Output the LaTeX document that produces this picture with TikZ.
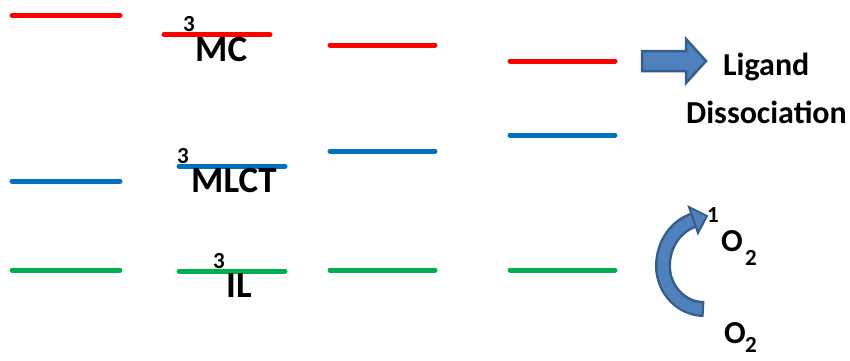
\documentclass[tikz,border=0pt]{standalone}
\usepackage{fontspec}
\setmainfont{Carlito}
\definecolor{lvred}{RGB}{255,0,0}
\definecolor{lvblue}{RGB}{0,112,192}
\definecolor{lvgreen}{RGB}{0,176,80}
\definecolor{arrfill}{RGB}{79,129,189}
\definecolor{arrdark}{RGB}{56,93,138}
\tikzset{
  level/.style={line width=5pt, line cap=round},
  big/.style={inner sep=0pt, anchor=base west, font=\fontsize{37}{37}\selectfont\bfseries},
  med/.style={inner sep=0pt, anchor=base west, font=\fontsize{32}{32}\selectfont\bfseries},
  oxy/.style={inner sep=0pt, anchor=base west, font=\fontsize{32}{32}\selectfont\bfseries},
  small/.style={inner sep=0pt, anchor=base west, font=\fontsize{23}{23}\selectfont\bfseries},
}
\begin{document}
\begin{tikzpicture}[x=1pt, y=-1pt]
\useasboundingbox (0,0) rectangle (850,360);
% column 1
\draw[level, lvred]   (12,15.5) -- (120,15.5);
\draw[level, lvblue]  (12,181) -- (120,181);
\draw[level, lvgreen] (12,270) -- (120,270);
% column 2
\draw[level, lvred]   (164,34.5) -- (270,34.5);
\draw[level, lvblue]  (179,166) -- (285,166);
\draw[level, lvgreen] (179,271) -- (285,271);
% column 3
\draw[level, lvred]   (330,45) -- (435,45);
\draw[level, lvblue]  (330,151) -- (435,151);
\draw[level, lvgreen] (330,270) -- (435,270);
% column 4
\draw[level, lvred]   (510,61) -- (615,61);
\draw[level, lvblue]  (510,135) -- (615,135);
\draw[level, lvgreen] (510,270) -- (615,270);
% labels
\node[small] (s1) at (183,31) {3};
\node[big]   (mc) at (195,61) {MC};
\node[small] (s2) at (177,163) {3};
\node[big]   (mlct) at (191,192) {MLCT};
\node[small] (s3) at (213,268) {3};
\node[big]   (il) at (226,297) {IL};
% block arrow
\draw[fill=arrfill, draw=arrdark, line width=2.5pt, line join=miter]
  (642,51) -- (686,51) -- (686,39) -- (706,61) -- (686,83) -- (686,71) -- (642,71) -- cycle;
\node[med] (lig) at (723,75) {Ligand};
\node[med] (dis) at (686,123) {Dissociation};
% curved arrow
\draw[arrdark, line width=16pt]
  (704,309) .. controls (682,309) and (663,290) .. (663,266) .. controls (663,244) and (676,226) .. (694,220);
\draw[arrfill, line width=11pt]
  (702,309) .. controls (682,309) and (663,290) .. (663,266) .. controls (663,244) and (676,226) .. (694,220);
\draw[fill=arrfill, draw=arrdark, line width=2pt, line join=miter]
  (689,207) -- (707,216) -- (698,233) -- cycle;
\node[small] (one) at (707,222) {1};
\node[oxy] (o2a) at (721,251) {O};
\node[small] (o2as) at (745,265) {2};
\node[oxy] (o2b) at (724,343) {O};
\node[small] (o2bs) at (745,352) {2};
\end{tikzpicture}
\end{document}
